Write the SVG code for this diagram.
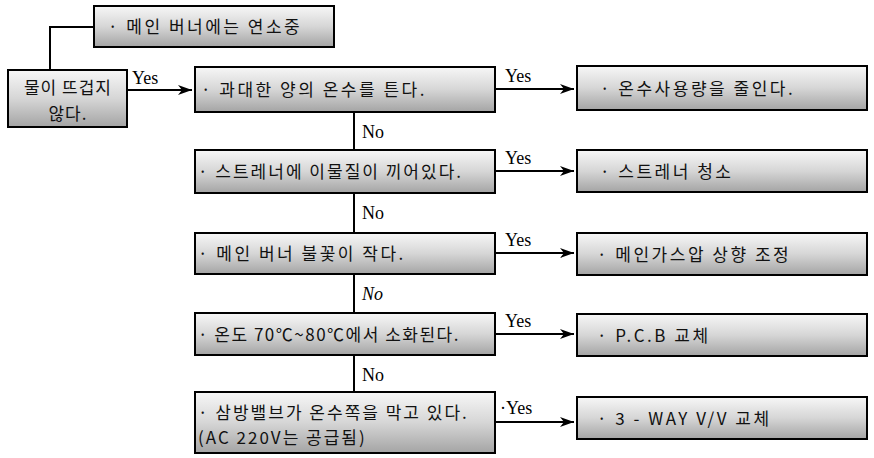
<svg xmlns="http://www.w3.org/2000/svg" width="874" height="458" viewBox="0 0 874 458">
<defs>
<linearGradient id="g" x1="0" y1="0" x2="0" y2="1">
<stop offset="0" stop-color="#f7f7f7"/>
<stop offset="0.5" stop-color="#d6d6d6"/>
<stop offset="1" stop-color="#a4a4a4"/>
</linearGradient>
<marker id="ah" viewBox="0 0 14 10" refX="14" refY="5" markerWidth="14" markerHeight="10" markerUnits="userSpaceOnUse" orient="auto">
<path d="M0,0 L14,5 L0,10 L4,5 Z" fill="#000"/>
</marker>
<style>
.box{fill:url(#g);stroke:#000;stroke-width:2}
.t{font-family:"Noto Sans CJK KR","Liberation Serif",serif;font-size:17px;fill:#111;letter-spacing:2.5px}
.l{font-family:"Liberation Serif",serif;font-size:18px;fill:#000}
.c{fill:none;stroke:#000;stroke-width:2}
</style>
</defs>
<rect width="874" height="458" fill="#fff"/>
<g id="connectors">
<path class="c" d="M50,70 V27 H94"/>
<path class="c" d="M127,90 H192" marker-end="url(#ah)"/>
<path class="c" d="M354,112 V150 M354,193 V233 M354,274 V313 M354,355 V392"/>
<path class="c" d="M495,89 H574" marker-end="url(#ah)"/>
<path class="c" d="M495,171 H574" marker-end="url(#ah)"/>
<path class="c" d="M495,253 H574" marker-end="url(#ah)"/>
<path class="c" d="M495,334 H574" marker-end="url(#ah)"/>
<path class="c" d="M495,422 H574" marker-end="url(#ah)"/>
<text class="l" x="132" y="84">Yes</text>
<text class="l" x="505" y="82">Yes</text>
<text class="l" x="505" y="164">Yes</text>
<text class="l" x="505" y="246">Yes</text>
<text class="l" x="505" y="327">Yes</text>
<text class="l" x="500" y="414">·Yes</text>
<text class="l" x="362" y="138">No</text>
<text class="l" x="362" y="219">No</text>
<text class="l" x="362" y="300" font-style="italic">No</text>
<text class="l" x="362" y="381">No</text>
</g>
<g id="n-burner">
<rect class="box" x="94" y="6" width="240" height="41"/>
<text class="t" x="108" y="33">· 메인 버너에는 연소중</text>
</g>
<g id="n-start">
<rect class="box" x="8" y="70" width="119" height="57"/>
<text class="t" x="68" y="94" text-anchor="middle" style="letter-spacing:1px">물이 뜨겁지</text>
<text class="t" x="68" y="120" text-anchor="middle" style="letter-spacing:1px">않다.</text>
</g>
<g id="n-q1">
<rect class="box" x="195" y="67" width="300" height="45"/>
<text class="t" x="201" y="96">· 과대한 양의 온수를 튼다.</text>
</g>
<g id="n-a1">
<rect class="box" x="577" y="66" width="290" height="44"/>
<text class="t" x="600" y="95">· 온수사용량을 줄인다.</text>
</g>
<g id="n-q2">
<rect class="box" x="195" y="150" width="300" height="43"/>
<text class="t" x="198" y="178" style="letter-spacing:2px">· 스트레너에 이물질이 끼어있다.</text>
</g>
<g id="n-a2">
<rect class="box" x="577" y="150" width="290" height="42"/>
<text class="t" x="600" y="178">· 스트레너 청소</text>
</g>
<g id="n-q3">
<rect class="box" x="195" y="233" width="300" height="41"/>
<text class="t" x="198" y="260">· 메인 버너 불꽃이 작다.</text>
</g>
<g id="n-a3">
<rect class="box" x="577" y="233" width="290" height="42"/>
<text class="t" x="597" y="261">· 메인가스압 상향 조정</text>
</g>
<g id="n-q4">
<rect class="box" x="195" y="313" width="300" height="42"/>
<text class="t" x="198" y="341" style="letter-spacing:1.5px">· 온도 70℃~80℃에서 소화된다.</text>
</g>
<g id="n-a4">
<rect class="box" x="577" y="314" width="290" height="42"/>
<text class="t" x="597" y="342">· P.C.B 교체</text>
</g>
<g id="n-q5">
<rect class="box" x="195" y="392" width="300" height="61"/>
<text class="t" x="198" y="419" style="letter-spacing:2px">· 삼방밸브가 온수쪽을 막고 있다.</text>
<text class="t" x="198" y="444" style="letter-spacing:2px">(AC 220V는 공급됨)</text>
</g>
<g id="n-a5">
<rect class="box" x="577" y="397" width="290" height="42"/>
<text class="t" x="597" y="425">· 3 - WAY V/V 교체</text>
</g>
</svg>
